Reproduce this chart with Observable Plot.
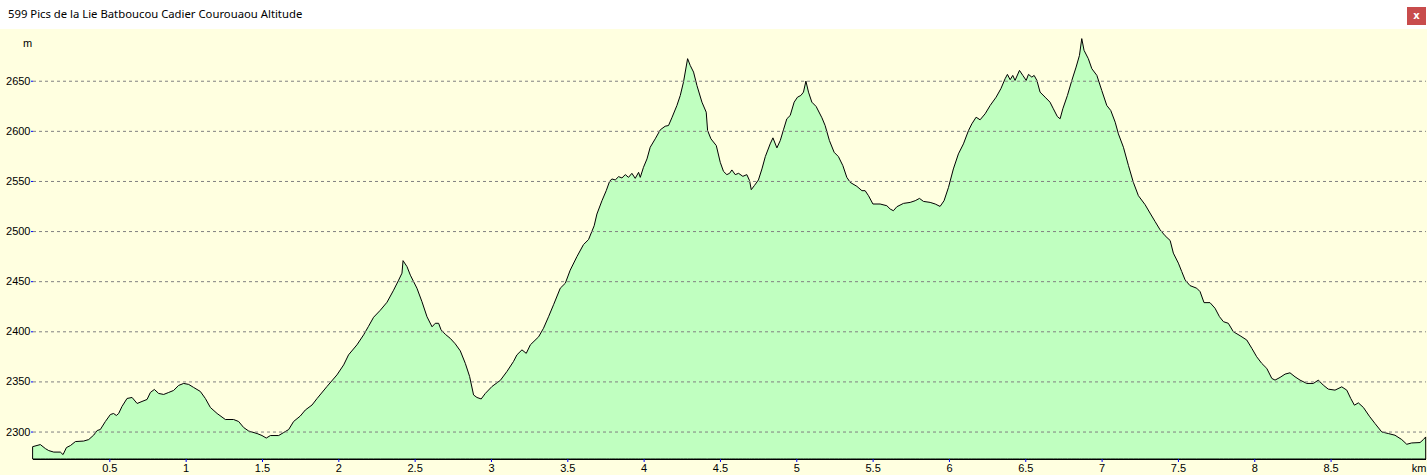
<!DOCTYPE html>
<html>
<head>
<meta charset="utf-8">
<script src="https://cdn.jsdelivr.net/npm/d3@7"></script>
<script src="https://cdn.jsdelivr.net/npm/@observablehq/plot@0.6"></script>
<style>
  html, body { margin: 0; padding: 0; background: #ffffff; }
  #titlebar { position: relative; width: 1427px; height: 29px; background: #ffffff; }
  #title { position: absolute; left: 8px; top: 6px; font-family: "Segoe UI", "Noto Sans", "Open Sans", sans-serif; font-size: 11.3px; color: #000; white-space: nowrap; }
  #close { position: absolute; left: 1407px; top: 7px; width: 19px; height: 18px; background: #c84c4c; color: #fff; font-family: "DejaVu Sans", sans-serif; font-size: 10px; font-weight: bold; line-height: 17px; text-align: center; }
  #chart svg { display: block; overflow: visible; }
</style>
</head>
<body>
<div id="titlebar"><span id="title">599 Pics de la Lie Batboucou Cadier Courouaou Altitude</span><div id="close">x</div></div>
<div id="chart"></div>
<script>
// distance (km), altitude (m)
const profile = [
  [0,2285],[0.048,2287],[0.081,2283],[0.103,2281],[0.136,2279.5],[0.179,2279.5],[0.197,2277],[0.219,2284],[0.245,2286],[0.278,2290],
  [0.332,2290.5],[0.365,2292],[0.398,2296.5],[0.420,2301],[0.441,2302],[0.474,2310],[0.507,2317],[0.528,2318],[0.546,2316],[0.561,2318],
  [0.583,2325],[0.616,2333],[0.649,2334],[0.682,2328],[0.714,2330],[0.747,2332],[0.769,2339],[0.795,2342],[0.823,2338],[0.856,2337],
  [0.889,2339],[0.921,2341],[0.954,2346],[0.987,2348],[1.020,2347],[1.052,2344],[1.096,2340],[1.129,2333],[1.162,2324],[1.206,2318],
  [1.260,2312],[1.314,2312],[1.347,2310],[1.380,2304],[1.413,2300.5],[1.468,2298],[1.500,2296],[1.528,2293.5],[1.555,2296],[1.609,2296],
  [1.642,2299],[1.675,2302],[1.707,2310],[1.751,2315.5],[1.784,2321.5],[1.828,2326.5],
  [1.861,2333],[1.926,2345],[1.991,2356.5],[2.035,2366.5],[2.067,2376.5],[2.122,2386.5],[2.166,2396.5],[2.198,2405],[2.231,2414],[2.275,2421],
  [2.319,2429],[2.362,2441],[2.395,2451],[2.417,2458],[2.424,2470.5],[2.450,2464.5],[2.472,2456],[2.515,2443],[2.548,2429.5],[2.581,2414.5],
  [2.614,2404.5],[2.635,2408],[2.657,2408],[2.673,2401.5],[2.701,2397],[2.733,2393],[2.766,2387.5],[2.799,2380.5],[2.832,2368],[2.860,2355],
  [2.886,2336.5],[2.908,2334],[2.936,2332.5],[2.963,2338],[3.007,2345],[3.061,2351],[3.105,2360],[3.148,2370],[3.170,2376.5],[3.203,2381.5],
  [3.231,2378],[3.258,2386.5],[3.312,2394.5],[3.344,2403],[3.377,2414.5],[3.410,2426.5],[3.454,2443],[3.487,2448],[3.519,2461],[3.563,2474.5],
  [3.606,2486.5],[3.639,2491.5],
  [3.676,2505.3],[3.694,2517],[3.727,2530.3],[3.755,2540.3],[3.777,2549.6],[3.792,2552],[3.814,2551],[3.836,2554.3],[3.858,2553],[3.880,2556.3],
  [3.901,2553.6],[3.923,2557.6],[3.945,2552.6],[3.967,2558.6],[3.978,2553.6],[3.999,2563.6],[4.022,2572],[4.043,2583.6],[4.076,2592],[4.109,2601],
  [4.141,2604.6],[4.163,2605.3],[4.185,2613],[4.218,2625.3],[4.240,2635.3],[4.261,2648.6],[4.288,2672],[4.305,2665.3],[4.327,2658.6],[4.349,2645.3],
  [4.382,2628.6],[4.410,2618.6],[4.419,2600.3],[4.441,2592],[4.476,2585.3],[4.502,2568.6],[4.523,2559.6],[4.545,2556.3],[4.563,2557.6],[4.578,2561],
  [4.600,2556.3],[4.622,2557.6],[4.650,2554.6],[4.676,2556.3],[4.694,2550.3],[4.705,2541.3],[4.725,2545.3],[4.752,2551],[4.775,2562],[4.797,2574.3],
  [4.829,2587],[4.847,2593],[4.873,2583],[4.895,2590.3],[4.916,2601],[4.938,2612],[4.960,2615.3],[4.986,2628.6],[5.008,2633.6],[5.030,2635.3],
  [5.047,2638.6],[5.063,2649.6],[5.080,2638.6],[5.102,2628.6],[5.130,2624.3],[5.168,2613],[5.189,2605.3],[5.217,2590.3],[5.248,2578.6],[5.276,2574.3],
  [5.305,2565.3],[5.331,2553.6],[5.353,2548.6],[5.397,2544.6],[5.430,2540.3],[5.451,2540.3],[5.473,2535.3],[5.502,2527],
  [5.549,2527],[5.593,2525.3],[5.615,2522],[5.636,2520.3],[5.659,2524.3],[5.702,2527.6],[5.746,2528.6],[5.779,2530.3],[5.807,2532.6],[5.833,2529.6],
  [5.877,2528.6],[5.910,2527],[5.942,2524.6],[5.968,2530.3],[5.997,2543.6],[6.029,2562],[6.062,2577],[6.095,2587],[6.128,2600.3],[6.150,2607],
  [6.178,2613.6],[6.204,2611],[6.237,2617],[6.270,2625.3],[6.309,2633.6],[6.340,2642],[6.368,2652],[6.383,2656.3],[6.401,2651],[6.418,2655.3],
  [6.433,2650.3],[6.462,2660.3],[6.484,2655.3],[6.506,2650.3],[6.521,2656.3],[6.543,2653.6],[6.558,2655.3],[6.576,2650.3],[6.597,2638.6],[6.630,2633.6],
  [6.662,2628.6],[6.684,2622],[6.710,2614.3],[6.728,2612],[6.746,2622],[6.776,2635.3],[6.805,2650.3],[6.833,2663.6],[6.855,2675.3],[6.870,2692],
  [6.885,2680.3],[6.913,2672],[6.936,2662],[6.969,2655.3],[7.001,2640.3],[7.034,2625.3],[7.060,2620.3],[7.089,2608.6],[7.110,2597],[7.143,2583.6],
  [7.176,2565.3],[7.208,2548.6],[7.241,2535.3],
  [7.285,2526.3],[7.317,2518],[7.350,2509.6],[7.383,2501.3],[7.416,2495.3],[7.449,2490.6],[7.470,2478],[7.503,2468],[7.525,2459.6],[7.547,2451.3],
  [7.579,2445.6],[7.623,2443],[7.645,2439.6],[7.671,2428.6],[7.710,2428.6],[7.743,2423],[7.772,2414.6],[7.798,2409.6],[7.830,2408],[7.863,2399.6],
  [7.907,2395.6],[7.951,2391.3],[7.984,2383],[8.016,2374.6],[8.049,2368],[8.082,2363],[8.115,2353],[8.136,2351.3],[8.169,2354],[8.202,2357.3],
  [8.234,2358.6],[8.267,2354.6],[8.300,2351.3],[8.344,2348],[8.387,2348],[8.420,2351.3],[8.452,2346.3],[8.485,2342.3],[8.529,2341.3],[8.573,2344.6],
  [8.606,2341.3],[8.632,2333],[8.656,2326.3],[8.682,2328.6],[8.715,2324],[8.754,2315.3],[8.791,2308],[8.835,2299.6],[8.878,2298],[8.922,2296.3],
  [8.966,2292],[8.999,2287.3],[9.031,2288.6],[9.086,2289],[9.108,2292],[9.123,2294.6]
];
const xTicks = [0.5, 1, 1.5, 2, 2.5, 3, 3.5, 4, 4.5, 5, 5.5, 6, 6.5, 7, 7.5, 8, 8.5];
const yTicks = [2300, 2350, 2400, 2450, 2500, 2550, 2600, 2650];
const xUnit = "km";
const yUnit = "m";

const xMax = 9.125;
const yMin = 2272.6, yMax = 2701.6;
const data = profile.map(([km, alt]) => ({km, alt}));

const chart = Plot.plot({
  width: 1427,
  height: 446,
  marginLeft: 33,
  marginRight: 1,
  marginTop: 0,
  marginBottom: 16,
  style: {background: "#ffffe0", fontFamily: "'Liberation Sans', Arial, sans-serif", fontSize: "11px", color: "#000"},
  x: {domain: [0, xMax]},
  y: {domain: [yMin, yMax]},
  marks: [
    Plot.areaY(data, {x: "km", y1: () => yMin, y2: "alt", fill: "#c0ffc0", stroke: "#000", strokeWidth: 1}),
    Plot.ruleY(yTicks, {stroke: "#808080", strokeDasharray: "3,3", strokeWidth: 1}),
    Plot.ruleY([yMin], {stroke: "#000", strokeWidth: 1}),
    Plot.axisX(xTicks, {anchor: "bottom", tickSize: 3, tickPadding: 2, stroke: "#0000ff", fill: "#000", tickFormat: d => String(d), label: null}),
    Plot.axisY(yTicks, {anchor: "left", tickSize: 2, tickPadding: 1, stroke: "#0000ff", fill: "#000", tickFormat: d => String(d), label: null}),
    Plot.text([yUnit], {x: () => 0, y: () => yMax, dx: -6, dy: 14, textAnchor: "middle", lineAnchor: "middle", fill: "#000"}),
    Plot.text([xUnit], {x: () => xMax, y: () => yMin - 9, textAnchor: "end", lineAnchor: "middle", fill: "#000"})
  ]
});
document.getElementById("chart").appendChild(chart);
</script>
</body>
</html>
